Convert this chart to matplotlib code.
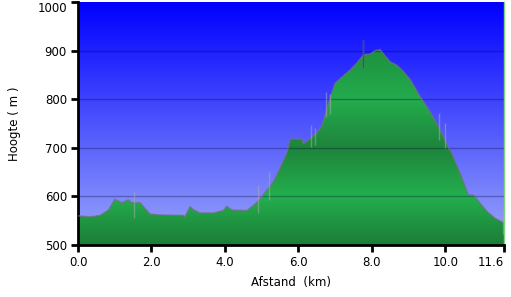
import numpy as np
import matplotlib
matplotlib.use('Agg')
import matplotlib.pyplot as plt
from matplotlib.patches import Polygon

# elevation profile (km, m)
dist = [0, 0.33, 0.6, 0.83, 1.0, 1.19, 1.37, 1.46, 1.69, 1.83,
        1.96, 2.23, 2.87, 2.91, 3.05, 3.14, 3.32, 3.69, 3.96, 4.05,
        4.19, 4.6, 4.78, 4.96, 5.14, 5.32, 5.5, 5.69, 5.78, 6.1,
        6.14, 6.27, 6.5, 6.64, 6.82, 7.0, 7.18, 7.41, 7.59, 7.73,
        7.77, 7.96, 8.09, 8.23, 8.32, 8.5, 8.68, 8.86, 9.05, 9.32,
        9.59, 9.77, 9.95, 10.09, 10.14, 10.41, 10.63, 10.77, 10.95, 11.14,
        11.36, 11.54, 11.6]
elev = [560, 558, 561, 572, 594, 587, 593, 587, 587, 575,
        564, 562, 561, 558, 579, 573, 566, 566, 571, 580,
        572, 571, 582, 594, 613, 630, 658, 690, 718, 718,
        708, 716, 730, 745, 792, 833, 845, 860, 874, 887,
        891, 893, 900, 902, 893, 877, 870, 857, 840, 805,
        774, 750, 723, 699, 695, 647, 603, 603, 586, 569,
        555, 548, 545]

# GPS spikes: distance, low, high
spike_x = [1.53, 4.9, 5.2, 6.34, 6.45, 6.75, 6.85, 7.75, 9.84, 10.0, 11.57]
spike_lo = [556, 566, 593, 702, 705, 763, 770, 864, 716, 700, 523]
spike_hi = [610, 623, 651, 747, 740, 815, 810, 922, 771, 751, 572]

xticks = [0, 2, 4, 6, 8, 10, 11.6]
xticklabels = ['0.0', '2.0', '4.0', '6.0', '8.0', '10.0', '11.6']
yticks = [500, 600, 700, 800, 900, 1000]

fig = plt.figure(figsize=(5.11, 2.97), dpi=100)
ax = fig.add_axes([78 / 511, 52 / 297, 426 / 511, 243 / 297])
xmin, xmax, ymin, ymax = 0, 11.6, 500, 1000

# sky gradient
yy = np.linspace(ymax, ymin, 300)
sky = np.zeros((300, 1, 3))
sky[:, 0, 0] = np.interp(yy, [500, 1000], [155, 0]) / 255
sky[:, 0, 1] = np.interp(yy, [500, 1000], [168, 0]) / 255
sky[:, 0, 2] = np.interp(yy, [500, 1000], [250, 255]) / 255
ax.imshow(sky, extent=[xmin, xmax, ymin, ymax], aspect='auto', zorder=0)

# green banded gradient, clipped to the profile
gy = [500, 600, 700, 800, 900, 1000]
green = np.zeros((300, 1, 3))
green[:, 0, 0] = np.interp(yy, gy, [28, 35, 30, 35, 30, 28]) / 255
green[:, 0, 1] = np.interp(yy, gy, [125, 175, 132, 172, 145, 130]) / 255
green[:, 0, 2] = np.interp(yy, gy, [56, 78, 60, 77, 64, 58]) / 255
im = ax.imshow(green, extent=[xmin, xmax, ymin, ymax], aspect='auto', zorder=1)
verts = [(dist[0], ymin)] + list(zip(dist, elev)) + [(dist[-1], ymin)]
poly = Polygon(verts, closed=True, facecolor='none', edgecolor='none')
ax.add_patch(poly)
im.set_clip_path(poly)

for y in yticks[1:-1]:
    ax.axhline(y, color=(0, 0, 0.2), alpha=0.3, lw=1, zorder=2)

ax.plot(dist, elev, color='#767080', alpha=0.7, lw=1, zorder=3)
ax.vlines(spike_x, spike_lo, spike_hi, color='#a8a8a8', alpha=0.55, lw=1, zorder=3)
ax.vlines(spike_x[7], spike_lo[7], spike_hi[7], color='#404050', alpha=0.8, lw=1, zorder=3)

ax.set_xlim(xmin, xmax)
ax.set_ylim(ymin, ymax)
ax.set_xticks(xticks)
ax.set_xticklabels(xticklabels)
ax.set_yticks(yticks)
ax.tick_params(direction='out', length=5, width=2, labelsize=8.5, pad=3)
ax.get_xticklabels()[-1].set_ha('right')
ax.get_xticklabels()[-1].set_x(11.6)
ax.get_yticklabels()[-1].set_va('top')

for s in ['left', 'bottom']:
    ax.spines[s].set_linewidth(2)
ax.spines['top'].set_visible(False)
ax.spines['right'].set_color('#7fd37f')
ax.spines['right'].set_linewidth(1)

ax.set_xlabel('Afstand  (km)', fontsize=8.5, labelpad=5)
ax.set_ylabel('Hoogte ( m )', fontsize=8.5, labelpad=12)

fig.savefig('out.png', dpi=100)
